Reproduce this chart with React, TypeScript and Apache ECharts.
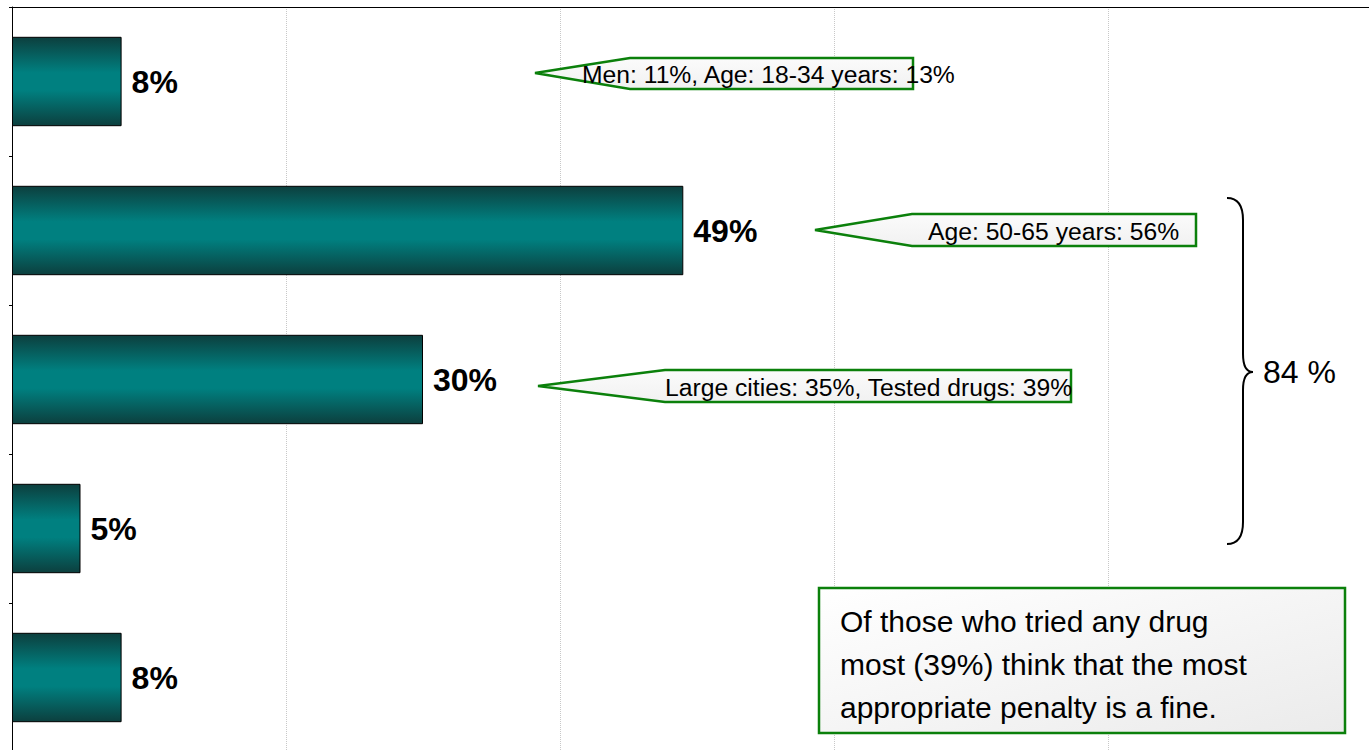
import React, { useEffect, useRef } from "react";
import * as echarts from "echarts";

const categories = ["Category 1", "Category 2", "Category 3", "Category 4", "Category 5"];
const values = [8, 49, 30, 5, 8];
const xTicks = [0, 20, 40, 60, 80, 100];
const calloutTexts = [
  "Men: 11%, Age: 18-34 years: 13%",
  "Age: 50-65 years: 56%",
  "Large cities: 35%, Tested drugs: 39%",
];
const braceLabel = "84 %";
const noteLines = [
  "Of those who tried any drug",
  "most (39%) think that the most",
  "appropriate penalty is a fine.",
];

const BRACE_D =
  "M0,0 C10,0 16,6 16,22 L16,156 C16,168 20,174 26,174 C20,174 16,180 16,192 L16,324 C16,340 10,346 0,346";

let registered = false;

export default function App() {
  const ref = useRef<HTMLDivElement>(null);
  useEffect(() => {
    if (!ref.current) return;
    if (!registered) {
      echarts.graphic.registerShape("brace", echarts.graphic.extendPath(BRACE_D, {}) as any);
      registered = true;
    }
    const chart = echarts.init(ref.current, null, { renderer: "svg" });
    const green = "#0b800b";
    const calloutFill = new echarts.graphic.LinearGradient(0, 0, 0, 1, [
      { offset: 0, color: "#fbfbfb" },
      { offset: 1, color: "#f1f1f1" },
    ]);
    const callout = (pts: number[][], text: string, tx: number, ty: number) => [
      {
        type: "polygon",
        shape: { points: pts },
        style: { fill: calloutFill, stroke: green, lineWidth: 2.5 },
        z: 10,
      },
      {
        type: "text",
        x: tx,
        y: ty,
        style: {
          text,
          font: "24.7px Arial, 'Liberation Sans', sans-serif",
          fill: "#000",
          verticalAlign: "middle",
        },
        z: 11,
      },
    ];
    chart.setOption({
      animation: false,
      grid: {
        left: 12,
        top: 7,
        width: 1370,
        height: 745,
        containLabel: false,
        outerBoundsMode: "none",
      },
      xAxis: {
        type: "value",
        position: "top",
        min: xTicks[0],
        max: xTicks[xTicks.length - 1],
        interval: 20,
        axisLine: { show: true, lineStyle: { color: "#000", width: 1 } },
        axisTick: { show: false },
        axisLabel: { show: false },
        splitLine: { show: true, lineStyle: { color: "#c8c8c8", type: "dotted", width: 1 } },
      },
      yAxis: {
        type: "category",
        inverse: true,
        data: categories,
        axisLine: { show: true, onZero: false, lineStyle: { color: "#000", width: 1 } },
        axisTick: { show: true, length: 3, lineStyle: { color: "#000" } },
        axisLabel: { show: false },
        splitLine: { show: false },
      },
      series: [
        {
          type: "bar",
          data: values,
          barCategoryGap: "40%",
          itemStyle: {
            color: new echarts.graphic.LinearGradient(0, 0, 0, 1, [
              { offset: 0, color: "#0c3f3e" },
              { offset: 0.4, color: "#008080" },
              { offset: 0.6, color: "#008080" },
              { offset: 1, color: "#0c3f3e" },
            ]),
            borderColor: "#000",
            borderWidth: 1,
          },
          label: {
            show: true,
            position: "right",
            distance: 10,
            formatter: "{c}%",
            color: "#000",
            fontSize: 32,
            fontWeight: "bold",
            fontFamily: "Arial, 'Liberation Sans', sans-serif",
          },
        },
      ],
      graphic: [
        ...callout(
          [[535, 73], [630, 58], [913, 58], [913, 89], [630, 89]],
          calloutTexts[0],
          582,
          74
        ),
        ...callout(
          [[815, 230], [912, 214], [1196, 214], [1196, 246], [912, 246]],
          calloutTexts[1],
          928,
          231
        ),
        ...callout(
          [[538, 386], [665, 370], [1071, 370], [1071, 402], [665, 402]],
          calloutTexts[2],
          665,
          387
        ),
        {
          type: "brace",
          x: 1227,
          y: 198,
          style: { fill: "none", stroke: "#000", lineWidth: 2 },
          z: 10,
        },
        {
          type: "text",
          x: 1263,
          y: 372,
          style: {
            text: braceLabel,
            font: "32px Arial, 'Liberation Sans', sans-serif",
            fill: "#000",
            verticalAlign: "middle",
          },
          z: 10,
        },
        {
          type: "rect",
          shape: { x: 819, y: 588, width: 526, height: 145 },
          style: {
            fill: new echarts.graphic.LinearGradient(0, 0, 1, 1, [
              { offset: 0, color: "#ffffff" },
              { offset: 1, color: "#ebebeb" },
            ]),
            stroke: green,
            lineWidth: 2.5,
          },
          z: 10,
        },
        ...noteLines.map((t, i) => ({
          type: "text",
          x: 840,
          y: 621 + i * 43,
          style: {
            text: t,
            font: "30px Arial, 'Liberation Sans', sans-serif",
            fill: "#000",
            verticalAlign: "middle",
          },
          z: 11,
        })),
      ],
    });
    return () => chart.dispose();
  }, []);
  return (
    <div
      ref={ref}
      style={{ position: "absolute", left: 0, top: 0, width: 1369, height: 750, background: "#fff" }}
    />
  );
}
